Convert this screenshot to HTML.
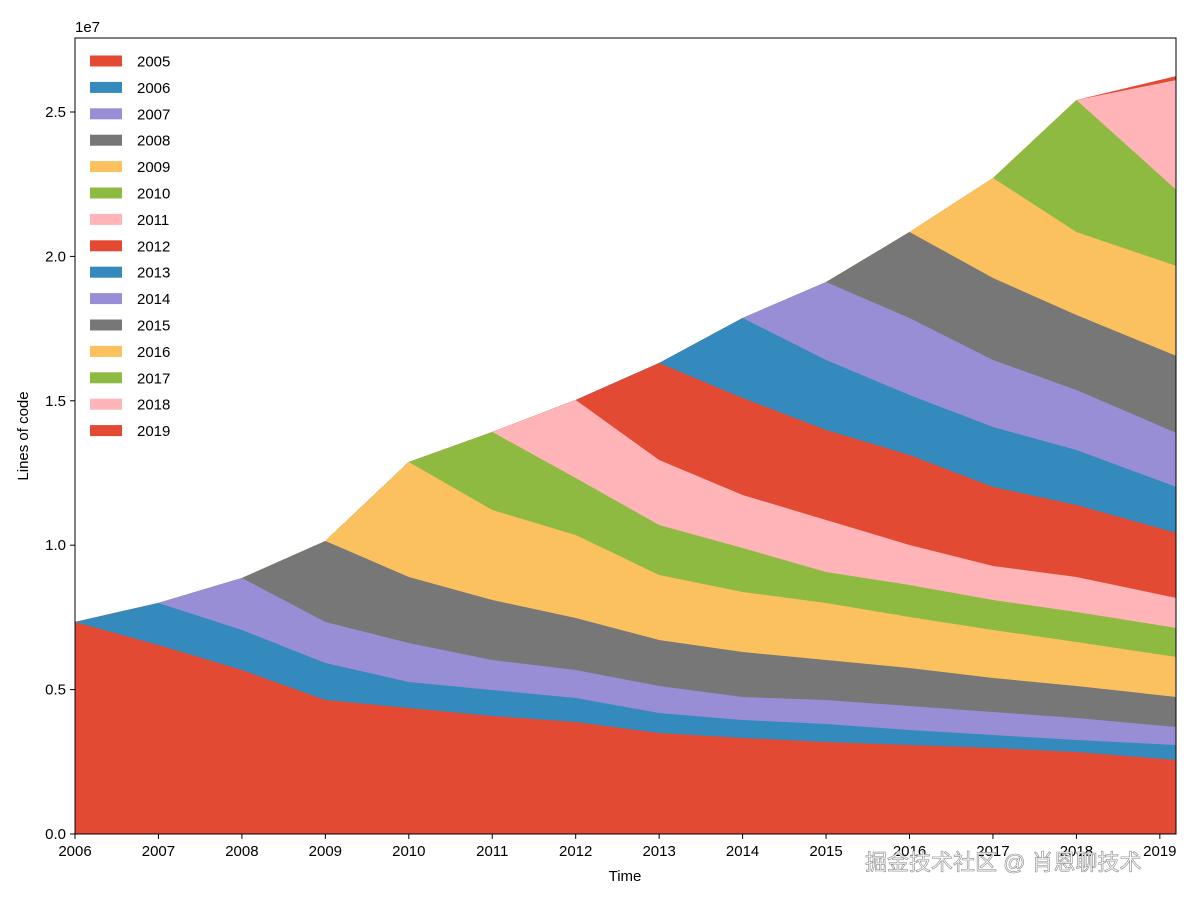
<!DOCTYPE html>
<html><head><meta charset="utf-8"><style>
body{margin:0;background:#fff;}
text{font-family:"Liberation Sans","DejaVu Sans",sans-serif;}
</style></head><body>
<svg id="s" width="1200" height="900" xmlns="http://www.w3.org/2000/svg">
<rect width="1200" height="900" fill="#fff"/>
<g id="areas"></g>
<rect x="75" y="38" width="1101" height="796" fill="none" stroke="#000" stroke-width="1"/>
<g id="ticks" font-size="15" fill="#000"></g>
<text x="75" y="32" font-size="15">1e7</text>
<text x="28" y="436" font-size="15" transform="rotate(-90 28 436)" text-anchor="middle">Lines of code</text>
<text x="625" y="881" font-size="15" text-anchor="middle">Time</text>
<g id="legend" font-size="15"></g>
<text x="865" y="870" font-size="22" fill="#fff" stroke="#888" stroke-width="0.6" font-family="'Liberation Sans','Noto Sans CJK SC',sans-serif">掘金技术社区 @ 肖恩聊技术</text>
</svg>
<script>
var C=["#E24A33","#348ABD","#988ED5","#777777","#FBC15E","#8EBA42","#FFB5B8"];
var T=[2006,2007,2008,2009,2010,2011,2012,2013,2014,2015,2016,2017,2018,2019.2];
function X(t){return 75+(t-2006)*83.45;}
// readings: per time index, boundaries for cohorts 2005..(available)
var R=[
[622],
[645,603],
[670,630,578],
[700,663,622,541],
[708,682,643,577,462],
[716,690,660,600,510,432],
[722,698,670,618,535,478,400],
[733,713,686,640,575,525,460,363],
[738,720,697,652,592,548,495,398,318],
[742,724,700,660,603,572,520,430,360,282],
[745,730,706,668,617,585,545,455,395,318,232],
[748,735,712,678,630,600,566,487,427,360,278,178],
[752,740,718,686,642,612,577,505,450,390,315,232,100],
[760,745,727,697,657,628,598,533,487,433,356,266,190,80,76]
];
var N=15,B=[];
for(var k=0;k<N;k++){B[k]=[];for(var i=0;i<T.length;i++){var r=R[i];B[k][i]=k<r.length?r[k]:r[r.length-1];}}
var g=document.getElementById('areas'),h='';
for(var k=N-1;k>=0;k--){var p='M75,834';for(var i=0;i<T.length;i++)p+=' L'+X(T[i]).toFixed(1)+','+B[k][i];p+=' L1176,834 Z';h+='<path d="'+p+'" fill="'+C[k%7]+'"/>';}
g.innerHTML=h;
var t='';
for(var y=2006;y<=2019;y++){var x=X(y);t+='<line x1="'+x+'" y1="834" x2="'+x+'" y2="839" stroke="#000"/><text x="'+x+'" y="856" text-anchor="middle">'+y+'</text>';}
var yl=["0.0","0.5","1.0","1.5","2.0","2.5"];
for(var j=0;j<6;j++){var yy=834-j*144.4;t+='<line x1="70" y1="'+yy+'" x2="75" y2="'+yy+'" stroke="#000"/><text x="66" y="'+(yy+5)+'" text-anchor="end">'+yl[j]+'</text>';}
document.getElementById('ticks').innerHTML=t;
var l='';
for(var k=0;k<N;k++){var yy=61+k*26.4;l+='<rect x="90" y="'+(yy-5.5)+'" width="32" height="11" fill="'+C[k%7]+'"/><text x="137" y="'+(yy+5.5)+'">'+(2005+k)+'</text>';}
document.getElementById('legend').innerHTML=l;
</script>
</body></html>
